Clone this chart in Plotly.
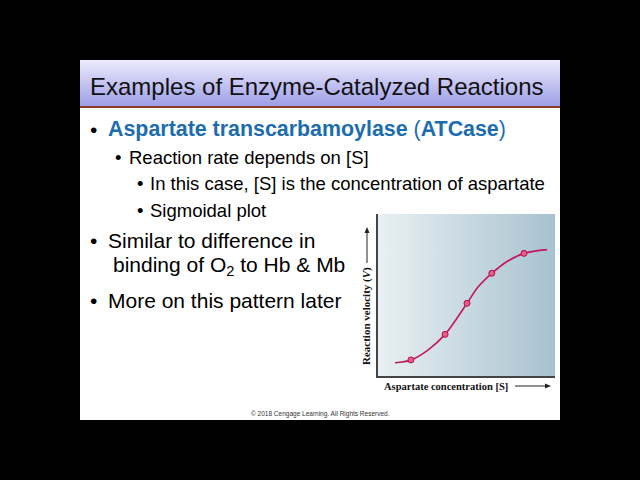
import plotly.graph_objects as go

# ---- data (arbitrary units 0..10) ----
curve_x = [0.96, 1.86, 2.82, 3.79, 5.03, 5.65, 6.43, 7.34, 8.25, 9.55]
curve_y = [0.82, 0.99, 1.60, 2.57, 4.49, 5.49, 6.34, 7.10, 7.57, 7.80]
point_x = [1.86, 3.79, 5.03, 6.43, 8.25]
point_y = [0.99, 2.57, 4.49, 6.34, 7.57]

title_text = "Examples of Enzyme-Catalyzed Reactions"
x_title = "Aspartate concentration [S]"
y_title = "Reaction velocity (<i>V</i>)"
copyright_text = "\u00a9 2018 Cengage Learning. All Rights Reserved."

SANS = "Liberation Sans, Arial, sans-serif"
SERIF = "Liberation Serif, Times New Roman, serif"
BLUE = "#1c6cb0"

fig = go.Figure()

# title bar gradient (background pixel axes)
fig.add_trace(go.Scatter(
    x=[80, 560, 560, 80, 80], y=[60, 60, 107, 107, 60],
    fill="toself", mode="lines", line=dict(width=0),
    fillgradient=dict(type="vertical", start=60, stop=107,
                      colorscale=[[0, "#ececfc"], [1, "#9c9ce8"]]),
    hoverinfo="skip", showlegend=False, xaxis="x", yaxis="y"))

# chart background gradient
fig.add_trace(go.Scatter(
    x=[378, 555, 555, 378, 378], y=[214, 214, 376, 376, 214],
    fill="toself", mode="lines", line=dict(width=0),
    fillgradient=dict(type="horizontal", start=378, stop=555,
                      colorscale=[[0, "#e9f0f3"], [1, "#a8c2d0"]]),
    hoverinfo="skip", showlegend=False, xaxis="x", yaxis="y"))

# sigmoidal curve
fig.add_trace(go.Scatter(
    x=curve_x, y=curve_y, mode="lines",
    line=dict(color="#c0185a", width=1.6, shape="spline", smoothing=1.0),
    hoverinfo="skip", showlegend=False, xaxis="x2", yaxis="y2"))
fig.add_trace(go.Scatter(
    x=point_x, y=point_y, mode="markers",
    marker=dict(size=6, color="#ea5a86", line=dict(color="#b0104e", width=1)),
    hoverinfo="skip", showlegend=False, xaxis="x2", yaxis="y2"))

ARROW = "#222222"
shapes = [
    dict(type="rect", xref="x", yref="y", x0=80, x1=560, y0=60, y1=420,
         fillcolor="white", line=dict(width=0), layer="below"),
    dict(type="line", xref="x", yref="y", x0=80, x1=560, y0=107, y1=107,
         line=dict(color="#8a3b2b", width=2)),
    # x-axis title arrow
    dict(type="line", xref="x", yref="y", x0=515, x1=547, y0=386, y1=386,
         line=dict(color=ARROW, width=1)),
    dict(type="path", xref="x", yref="y", path="M 551 386 L 545 383.5 L 545 388.5 Z",
         fillcolor=ARROW, line=dict(width=0)),
    # y-axis title arrow
    dict(type="line", xref="x", yref="y", x0=367, x1=367, y0=263, y1=232,
         line=dict(color=ARROW, width=1)),
    dict(type="path", xref="x", yref="y", path="M 367 227 L 364.5 233 L 369.5 233 Z",
         fillcolor=ARROW, line=dict(width=0)),
]

ann = []
def txt(x, y, text, size, color="black", family=SANS, anchor="left", angle=0):
    ann.append(dict(x=x, y=y, xref="x", yref="y", text=text, showarrow=False,
                    xanchor=anchor, yanchor="middle", textangle=angle,
                    font=dict(size=size, color=color, family=family)))

txt(88, 86, title_text, 24, "#111111")

# bullets
txt(88, 129, "\u2022", 21, "black")
txt(106, 129, "<b>Aspartate transcarbamoylase</b> (<b>ATCase</b>)", 21.4, BLUE)
txt(113, 157, "\u2022", 18.5)
txt(127, 157, "Reaction rate depends on [S]", 18.5)
txt(135, 183, "\u2022", 18.5)
txt(148, 183, "In this case, [S] is the concentration of aspartate", 18.5)
txt(135, 210, "\u2022", 18.5)
txt(148, 210, "Sigmoidal plot", 18.5)
txt(88, 240, "\u2022", 21)
txt(106, 240, "Similar to difference in", 21)
txt(111, 266, "binding of O<sub>2</sub> to Hb &amp; Mb", 21)
txt(88, 300, "\u2022", 21)
txt(106, 300, "More on this pattern later", 21)

# chart axis titles
txt(382, 386, "<b>" + x_title + "</b>", 10.5, "#111111", SERIF)
txt(366, 316, "<b>" + y_title + "</b>", 11, "#111111", SERIF, anchor="center", angle=-90)

# copyright
txt(320, 414, copyright_text, 6.5, "#333333", SANS, anchor="center")

fig.update_layout(
    width=640, height=480,
    margin=dict(l=0, r=0, t=0, b=0),
    paper_bgcolor="black", plot_bgcolor="rgba(0,0,0,0)",
    showlegend=False,
    shapes=shapes, annotations=ann,
    xaxis=dict(domain=[0, 1], range=[0, 640], visible=False, fixedrange=True),
    yaxis=dict(domain=[0, 1], range=[480, 0], visible=False, fixedrange=True),
    xaxis2=dict(domain=[378 / 640, 555 / 640], range=[0, 10], anchor="y2",
                showline=True, linecolor="#444444", linewidth=2, mirror=False,
                showgrid=False, zeroline=False, showticklabels=False, ticks="",
                fixedrange=True),
    yaxis2=dict(domain=[(480 - 376) / 480, (480 - 214) / 480], range=[0, 10], anchor="x2",
                showline=True, linecolor="#444444", linewidth=2, mirror=False,
                showgrid=False, zeroline=False, showticklabels=False, ticks="",
                fixedrange=True),
)

fig.write_html(
    "out.html",
    config={"displayModeBar": False, "staticPlot": True},
    post_script="document.body.style.margin='0';document.body.style.padding='0';"
                "document.body.style.background='black';"
                "document.body.style.overflow='hidden';",
)
